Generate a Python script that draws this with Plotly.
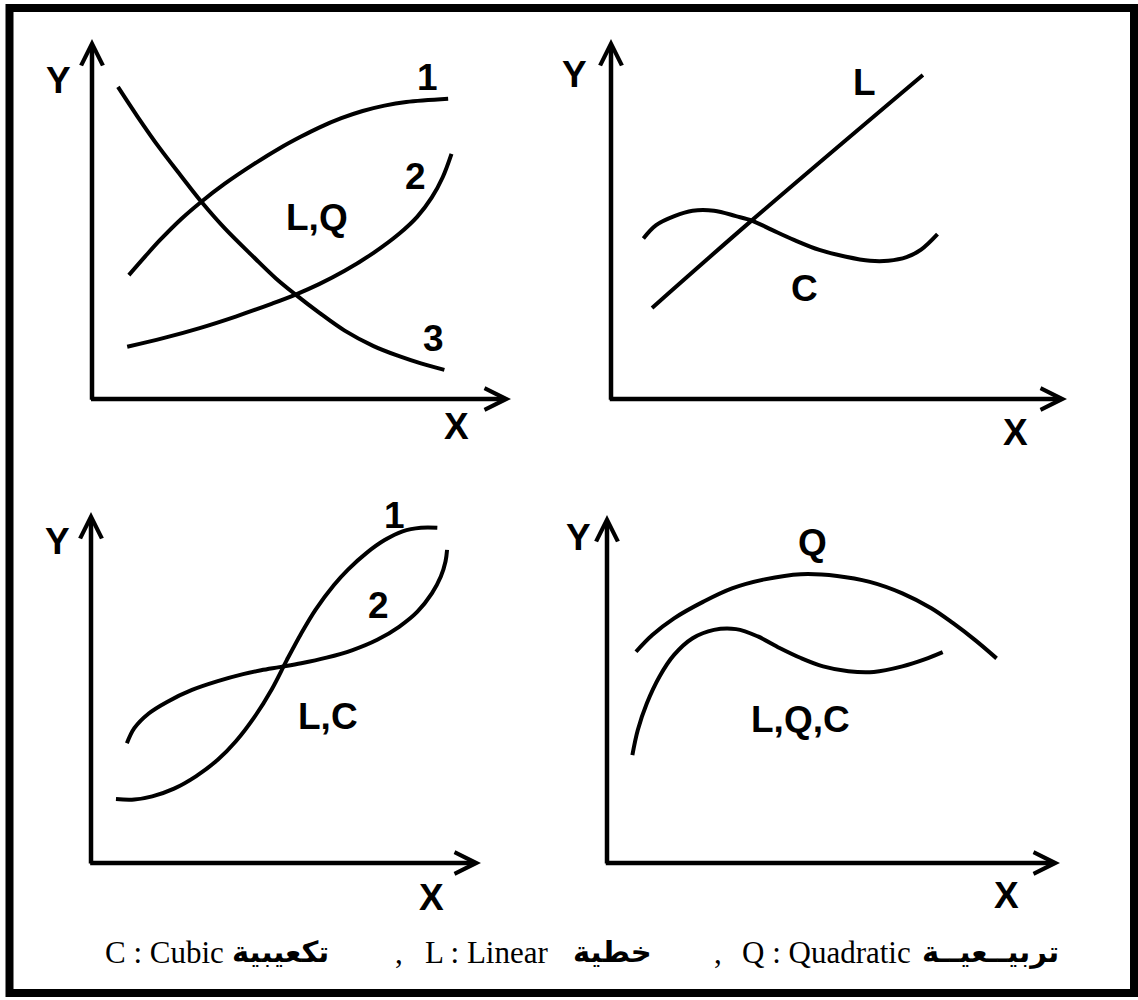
import plotly.graph_objects as go

W, H = 1138, 1000

# ---- curve data, each panel in units 0..100 (origin -> arrow tip) ----
# panel 1: curves 1, 2, 3
p1_x1 = [8.8, 12.7, 16.2, 21.3, 26.1, 31.7, 38.7, 44.7, 49.9, 54.2, 59.5, 64.6, 69.8, 75.0, 85.0]
p1_y1 = [34.4, 39.6, 44.1, 50.0, 54.8, 59.8, 65.3, 69.6, 72.9, 75.4, 78.0, 80.0, 81.5, 82.5, 83.4]
p1_x2 = [8.4, 17.0, 25.7, 34.3, 43.0, 48.6, 54.2, 60.3, 67.2, 73.3, 77.6, 81.1, 83.7, 85.8]
p1_y2 = [14.5, 16.9, 19.7, 22.9, 26.5, 29.0, 31.9, 35.6, 40.6, 45.9, 50.6, 56.0, 61.6, 68.1]
p1_x3 = [6.2, 10.9, 16.2, 21.3, 26.1, 31.7, 38.7, 43.9, 48.6, 54.2, 60.3, 67.2, 73.3, 78.5, 84.1]
p1_y3 = [86.7, 78.4, 69.6, 61.9, 54.8, 47.4, 39.3, 33.5, 29.0, 24.0, 19.0, 14.7, 11.9, 9.9, 8.1]

# panel 2: linear L and cubic C
p2_xl = [9.0, 30.5, 68.4]
p2_yl = [25.3, 49.2, 90.0]
p2_xc = [7.1, 9.9, 13.9, 17.9, 22.6, 27.4, 31.0, 35.4, 40.1, 45.7, 51.3, 56.8, 60.8, 64.8, 68.0, 71.6]
p2_yc = [44.6, 48.3, 50.8, 52.3, 52.3, 50.8, 49.5, 46.9, 44.2, 41.4, 39.6, 38.4, 38.4, 39.4, 41.5, 45.8]

# panel 3: curves 1 and 2
p3_x1 = [6.4, 11.1, 15.7, 21.3, 26.9, 32.5, 37.1, 41.8, 46.4, 50.2, 53.9, 57.6, 62.3, 65.9,
         70.6, 75.3, 79.9, 84.6, 88.8]
p3_y1 = [18.2, 18.1, 19.0, 21.2, 24.7, 29.4, 34.6, 41.4, 49.6, 57.8, 65.4, 72.2, 79.2, 83.6,
         88.3, 92.0, 94.5, 95.5, 95.5]
p3_x2 = [9.2, 11.1, 14.8, 19.5, 25.9, 32.5, 39.0, 43.6, 48.3, 53.9, 60.4, 66.9, 73.4, 79.0,
         83.7, 87.4, 89.7, 90.9, 91.3]
p3_y2 = [34.1, 38.4, 42.6, 45.9, 49.3, 51.8, 53.8, 54.9, 55.8, 56.9, 58.5, 60.6, 63.6, 67.3,
         71.6, 76.8, 81.6, 85.9, 89.2]

# panel 4: quadratic Q and the lower curve
p4_xq = [6.4, 10.0, 14.8, 21.3, 27.6, 34.8, 42.8, 50.8, 58.0, 65.2, 71.6, 76.4, 81.2, 86.0]
p4_yq = [60.7, 65.5, 70.3, 75.1, 78.9, 81.5, 83.0, 82.5, 80.8, 77.5, 73.2, 68.9, 64.1, 58.8]
p4_xo = [5.6, 6.8, 8.8, 11.6, 14.8, 18.9, 23.6, 28.5, 33.3, 38.1, 42.8, 47.7, 53.3, 58.9,
         65.2, 70.1, 74.1]
p4_yo = [31.0, 38.2, 45.9, 53.6, 59.8, 64.6, 67.0, 67.2, 65.1, 61.8, 58.9, 56.5, 55.1, 54.9,
         56.5, 58.5, 60.6]

# labels per panel
p1_labels = ['Y', 'X', '1', '2', 'L,Q', '3']
p1_lx = [-8.1, 87.1, 80.0, 77.1, 53.7, 81.6]
p1_ly = [88.6, -7.5, 89.4, 61.7, 50.3, 16.9]
p2_labels = ['Y', 'X', 'L', 'C']
p2_lx = [-7.9, 88.6, 55.7, 42.5]
p2_ly = [90.0, -9.2, 87.8, 30.8]
p3_labels = ['Y', 'X', '1', '2', 'L,C']
p3_lx = [-8.5, 87.4, 77.7, 73.8, 60.8]
p3_ly = [91.5, -9.7, 99.1, 73.5, 41.6]
p4_labels = ['Y', 'X', 'Q', 'L,Q,C']
p4_lx = [-6.2, 88.1, 45.3, 42.8]
p4_ly = [93.4, -9.2, 92.0, 41.1]

caption_parts = ['C : Cubic', 'تكعيبية', ',', 'L : Linear', 'خطية', ',',
                 'Q : Quadratic', 'تربيــعيــة']
caption_arabic = [False, True, False, False, True, False, False, True]

# ---- layout geometry (pixels): axis origin and arrow tips ----
panels = [
    dict(ox=92, oy=399, tx=511, ty=39),
    dict(ox=611, oy=399, tx=1067, ty=39),
    dict(ox=91, oy=863, tx=481, ty=512),
    dict(ox=607, oy=863, tx=1060, ty=515),
]
curves = [
    [(p1_x1, p1_y1), (p1_x2, p1_y2), (p1_x3, p1_y3)],
    [(p2_xl, p2_yl), (p2_xc, p2_yc)],
    [(p3_x1, p3_y1), (p3_x2, p3_y2)],
    [(p4_xq, p4_yq), (p4_xo, p4_yo)],
]
labels = [
    (p1_labels, p1_lx, p1_ly),
    (p2_labels, p2_lx, p2_ly),
    (p3_labels, p3_lx, p3_ly),
    (p4_labels, p4_lx, p4_ly),
]
caption_px = [103, 230, 393, 423, 571, 712, 740, 920]
LO, HI = -14, 106

fig = go.Figure()
annotations = []

for i, p in enumerate(panels, 1):
    sx = (p['tx'] - p['ox']) / 100
    sy = (p['oy'] - p['ty']) / 100
    sfx = '' if i == 1 else str(i)
    fig.layout['xaxis' + sfx] = dict(
        domain=[(p['ox'] + LO * sx) / W, (p['ox'] + HI * sx) / W],
        range=[LO, HI], visible=False, anchor='y' + sfx, fixedrange=True)
    fig.layout['yaxis' + sfx] = dict(
        domain=[1 - (p['oy'] - LO * sy) / H, 1 - (p['oy'] - HI * sy) / H],
        range=[LO, HI], visible=False, anchor='x' + sfx, fixedrange=True)

    for cx, cy in curves[i - 1]:
        fig.add_trace(go.Scatter(
            x=cx, y=cy, mode='lines', xaxis='x' + sfx, yaxis='y' + sfx,
            line=dict(color='black', width=4, shape='spline', smoothing=1),
            hoverinfo='skip', showlegend=False))

    # axes drawn as arrows
    arrow = dict(xref='x' + sfx, yref='y' + sfx, axref='x' + sfx, ayref='y' + sfx,
                 text='', showarrow=True, arrowhead=5, arrowwidth=4.5,
                 arrowsize=0.95, arrowcolor='black')
    annotations.append(dict(arrow, x=100, y=0, ax=-0.6, ay=0))
    annotations.append(dict(arrow, x=0, y=100, ax=0, ay=-0.6))

    for t, lx, ly in zip(*labels[i - 1]):
        annotations.append(dict(
            x=lx, y=ly, xref='x' + sfx, yref='y' + sfx, text='<b>%s</b>' % t,
            showarrow=False, xanchor='center', yanchor='middle',
            font=dict(family='Liberation Sans', size=37, color='black')))

for t, is_ar, px in zip(caption_parts, caption_arabic, caption_px):
    if is_ar:
        font = dict(family='DejaVu Sans', size=29, color='black')
        t = '<b>%s</b>' % t
    else:
        font = dict(family='Liberation Serif', size=31, color='black')
    annotations.append(dict(
        x=px / W, y=1 - 952 / H, xref='paper', yref='paper', text=t,
        showarrow=False, xanchor='left', yanchor='middle', font=font))

fig.update_layout(
    width=W, height=H,
    margin=dict(l=0, r=0, t=0, b=0),
    paper_bgcolor='white', plot_bgcolor='white',
    annotations=annotations,
    shapes=[dict(type='rect', xref='paper', yref='paper',
                 x0=9.5 / W, x1=1134 / W, y0=1 - 993 / H, y1=1 - 8 / H,
                 line=dict(color='black', width=8))],
)

# page body has a default 8px margin; drop it so the figure fills the window
fig.write_html("out.html", config={'displayModeBar': False},
               post_script="document.body.style.margin='0';")
